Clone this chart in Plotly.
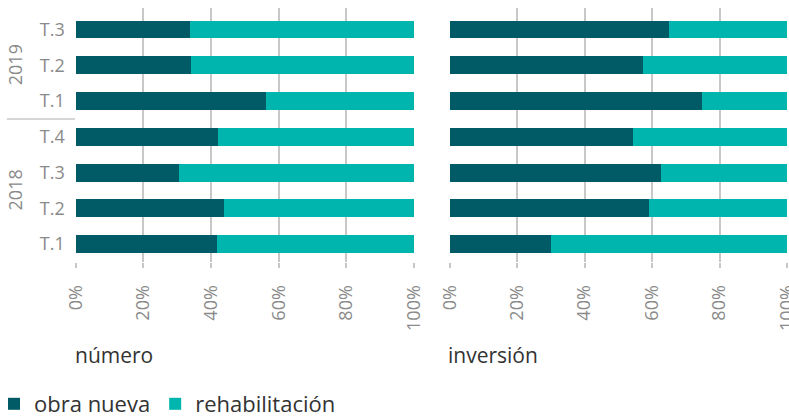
import plotly.graph_objects as go

categories = ["T.1", "T.2", "T.3", "T.4", "T.1", "T.2", "T.3"]
years = ["2018", "2019"]
numero_obra = [41.9, 43.7, 30.5, 42.1, 56.3, 34.1, 33.8]
numero_rehab = [100 - v for v in numero_obra]
inversion_obra = [30.0, 59.1, 62.7, 54.3, 74.8, 57.3, 65.0]
inversion_rehab = [100 - v for v in inversion_obra]
x_ticks = [0, 20, 40, 60, 80, 100]
x_tick_labels = ["0%", "20%", "40%", "60%", "80%", "100%"]

DARK = "#005b66"
LIGHT = "#00b5ad"
GRID = "#c8c8c8"
TICKC = "#8a8a8a"
TEXTC = "#333333"
FONT = "Open Sans"
W, H = 789, 417

ypos = list(range(len(categories)))

fig = go.Figure()
for i, (obra, rehab) in enumerate([(numero_obra, numero_rehab), (inversion_obra, inversion_rehab)]):
    xa = "x" if i == 0 else "x2"
    ya = "y" if i == 0 else "y2"
    fig.add_trace(go.Bar(y=ypos, x=obra, orientation="h", marker=dict(color=DARK, line=dict(width=0)),
                         name="obra nueva", showlegend=(i == 0), xaxis=xa, yaxis=ya))
    fig.add_trace(go.Bar(y=ypos, x=rehab, orientation="h", marker=dict(color=LIGHT, line=dict(width=0)),
                         name="rehabilitación", showlegend=(i == 0), xaxis=xa, yaxis=ya))

ydom = [1 - 262 / H, 1 - 8 / H]
xaxis_common = dict(range=[0, 100], tickvals=x_ticks, ticktext=x_tick_labels, tickangle=-90,
                    showgrid=True, gridcolor=GRID, gridwidth=1.5, zeroline=False,
                    ticks="outside", ticklen=5, tickcolor=GRID, tickwidth=1.5,
                    ticklabelstandoff=10,
                    tickfont=dict(family=FONT, size=18, color=TICKC), automargin=False,
                    ticklabeloverflow="allow", showline=False, fixedrange=True)
yaxis_common = dict(range=[-0.5, 6.6], domain=ydom, showgrid=False, zeroline=False,
                    automargin=False, showline=False, fixedrange=True)

fig.update_layout(
    width=W, height=H, margin=dict(l=0, r=0, t=0, b=0, autoexpand=False),
    paper_bgcolor="white", plot_bgcolor="white",
    barmode="stack", bargap=0.5,
    font=dict(family=FONT, color=TEXTC),
    xaxis=dict(domain=[75.7 / W, 414 / W], anchor="y", **xaxis_common),
    xaxis2=dict(domain=[449.7 / W, 787 / W], anchor="y2", **xaxis_common),
    yaxis=dict(anchor="x", tickvals=ypos, ticktext=categories, ticklabelstandoff=10,
               tickfont=dict(family=FONT, size=18, color=TICKC), **yaxis_common),
    yaxis2=dict(anchor="x2", showticklabels=False, **yaxis_common),
    legend=dict(orientation="h", x=-6 / W, xanchor="left", y=1 - 404 / H, yanchor="middle",
                font=dict(family=FONT, size=22, color=TEXTC), itemwidth=30,
                traceorder="normal"),
)

# year group labels and separator
fig.add_annotation(x=15 / W, xref="paper", xanchor="center", y=5, yref="y", text=years[1], textangle=-90,
                   showarrow=False, font=dict(family=FONT, size=18, color=TICKC))
fig.add_annotation(x=15 / W, xref="paper", xanchor="center", y=1.5, yref="y", text=years[0], textangle=-90,
                   showarrow=False, font=dict(family=FONT, size=18, color=TICKC))
fig.add_shape(type="line", xref="paper", yref="y", x0=7 / W, x1=75 / W, y0=3.5, y1=3.5,
              line=dict(color=GRID, width=1.5))

# panel titles
fig.add_annotation(x=73 / W, xref="paper", y=1 - 355 / H, yref="paper", yanchor="middle", text="número",
                   xanchor="left", showarrow=False, font=dict(family=FONT, size=21, color=TEXTC))
fig.add_annotation(x=446 / W, xref="paper", y=1 - 355 / H, yref="paper", yanchor="middle", text="inversión",
                   xanchor="left", showarrow=False, font=dict(family=FONT, size=21, color=TEXTC))

fig.write_html("out.html", post_script="document.body.style.margin='0';",
               config={"displayModeBar": False})
